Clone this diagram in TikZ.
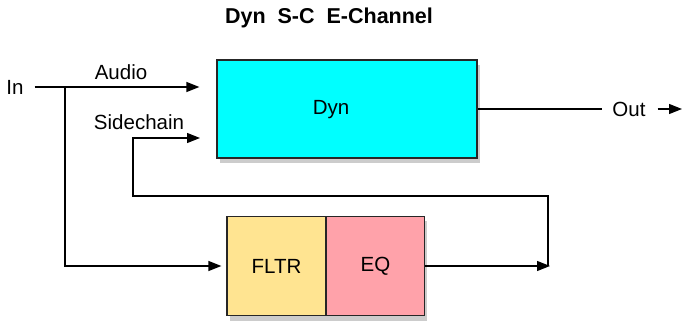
\documentclass[tikz,border=0pt]{standalone}
\usepackage{fontspec}
\setmainfont{Liberation Sans}
\usetikzlibrary{arrows.meta,shadows}
\definecolor{dyncyan}{RGB}{0,255,255}
\definecolor{fltryel}{RGB}{255,228,145}
\definecolor{eqpink}{RGB}{255,162,170}
\begin{document}
\begin{tikzpicture}[x=1pt,y=1pt,
  lbl/.style={font=\fontsize{20.5}{24}\selectfont, inner sep=0pt},
  box/.style={draw=black!85, line width=1.2pt, inner sep=0pt,
    drop shadow={shadow xshift=2.5pt,shadow yshift=-5pt,opacity=0.4}},
  wire/.style={line width=1.3pt},
  arr/.style={wire,-{Triangle[length=13pt,width=10pt]}}]
\useasboundingbox (0,0) rectangle (694,327);
% title
\node[lbl, font=\fontsize{21.5}{25}\selectfont\bfseries] (title) at (329,309) {Dyn\ \ S-C\ \ E-Channel};
% boxes
\node[box, fill=dyncyan, minimum width=260pt, minimum height=98pt] (dyn) at (347,218) {};
\node[lbl] (dynlbl) at (331,217) {Dyn};
\node[box, fill=fltryel, minimum width=99pt, minimum height=99pt, lbl] (fltr) at (276.5,61) {FLTR};
\node[box, fill=eqpink, minimum width=98pt, minimum height=99pt, lbl] (eq) at (375.5,61) {EQ};
% labels
\node[lbl] (in) at (15,240) {In};
\node[lbl] (audio) at (121,255) {Audio};
\node[lbl] (side) at (139,205) {Sidechain};
\node[lbl] (out) at (629,218) {Out};
% coordinates
\coordinate (j1) at (65,240);
\coordinate (j2) at (550,61);
\coordinate (jv) at (548,61);
\coordinate (sc) at (133,131);
\coordinate (scin) at (217,189);
\coordinate (outend) at (682,218);
% connectors
\draw[arr, shorten <=11pt, shorten >=17pt] (in.east) -- (dyn.west |- in.east);
\draw[arr, shorten >=5pt] (j1) |- (fltr.west);
\draw[arr] (eq.east) -- (j2);
\draw[arr, shorten >=17pt] (jv) |- (sc) |- (scin);
\draw[wire, shorten >=10pt] (dyn.east) -- (out.west);
\draw[arr, shorten <=12pt] (out.east) -- (outend);
\end{tikzpicture}
\end{document}
